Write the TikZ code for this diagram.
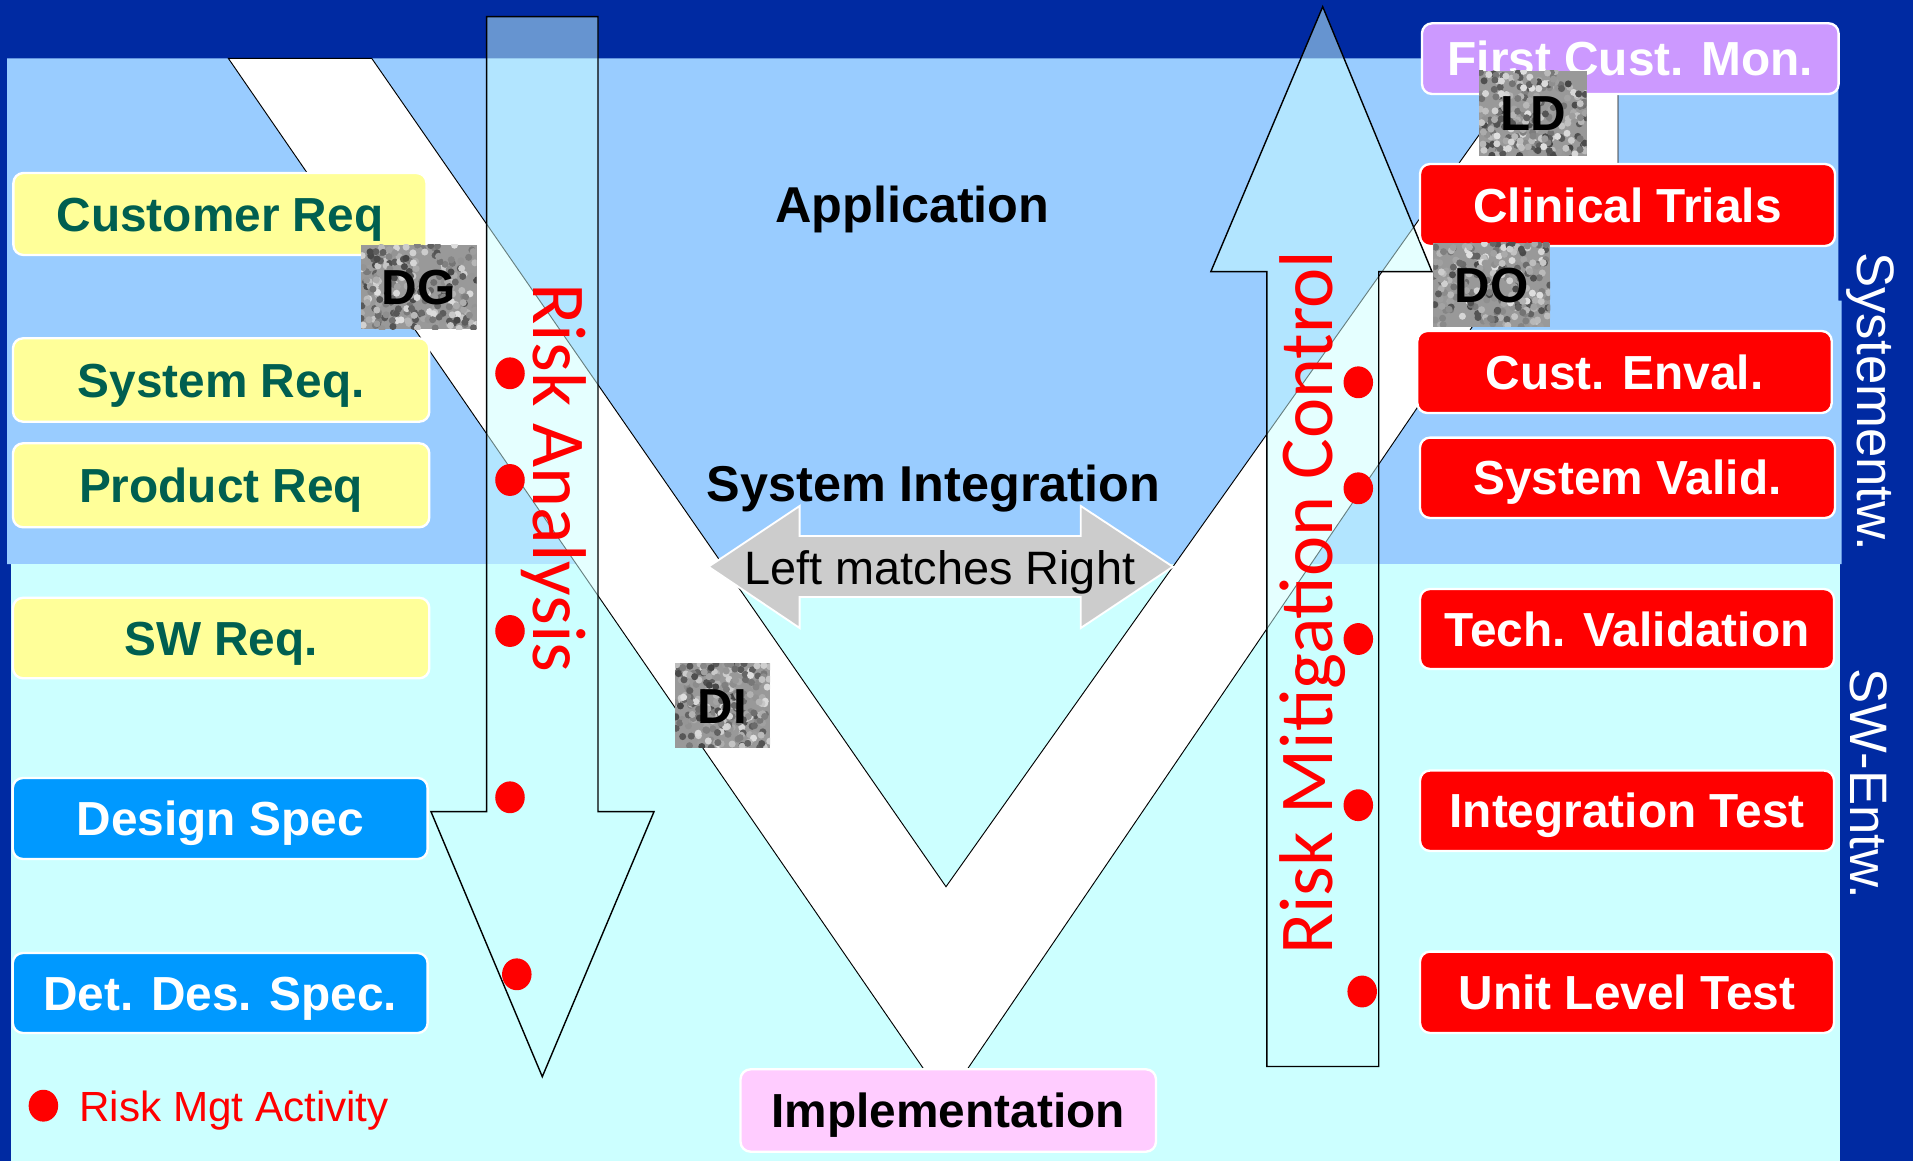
\documentclass[tikz,border=0pt]{standalone}
\usepackage{fontspec}
\setmainfont{Liberation Sans}
\newfontfamily\calib{Carlito}
\usetikzlibrary{shapes.geometric,calc}

\definecolor{dkblue}{RGB}{0,42,162}
\definecolor{ltblue}{RGB}{153,204,255}
\definecolor{ltcyan}{RGB}{204,255,255}
\definecolor{reqyellow}{RGB}{255,255,153}
\definecolor{reqtext}{RGB}{0,95,80}
\definecolor{specblue}{RGB}{0,153,255}
\definecolor{lav}{RGB}{204,153,255}
\definecolor{pinkbox}{RGB}{255,204,255}
\definecolor{arrgray}{RGB}{204,204,204}

\tikzset{
  bx/.style 2 args={minimum width=#1*0.42679pt, minimum height=#2*0.42679pt},
  lbl/.style={font=\fontsize{20.4}{24}\selectfont\bfseries, text height=14.6pt, text depth=0pt, inner sep=0pt},
  rbox/.style={lbl, rounded corners=4.3pt, draw=white, line width=1pt},
  ybox/.style={rbox, fill=reqyellow, text=reqtext},
  bbox/.style={rbox, fill=specblue, text=white},
  redbox/.style={rbox, fill=red, text=white},
  lavbox/.style={rbox, fill=lav, text=white},
  pinkb/.style={rbox, fill=pinkbox, text=black},
  title/.style={font=\fontsize{21.5}{24}\selectfont\bfseries, text=black, inner sep=0pt, anchor=base},
  riskarrow/.style={fill=ltcyan, fill opacity=0.5, draw=black, line width=0.6pt},
  vshape/.style={fill=white, draw=black, line width=0.4pt},
  rdot/.style={ellipse, fill=red, inner sep=0pt, minimum width=12.6pt, minimum height=13.6pt},
  risktext/.style={font=\calib\fontsize{32.5}{36}\selectfont, text=red, inner sep=0pt, anchor=base west},
  stripe/.style={font=\fontsize{22.5}{26}\selectfont, text=white, inner sep=0pt, anchor=base west, rotate=-90},
  speckle/.style={path picture={
    \foreach \k in {1,...,240}{
      \pgfmathsetmacro{\rx}{rnd}
      \pgfmathsetmacro{\ry}{rnd}
      \pgfmathtruncatemacro{\rc}{12+62*rnd}
      \path ($(path picture bounding box.south west)!\rx!(path picture bounding box.south east)$) coordinate (spa);
      \path ($(path picture bounding box.south west)!\ry!(path picture bounding box.north west)$) coordinate (spb);
      \fill[black!\rc] (spa |- spb) circle (1.5pt);
    }}},
  texbox/.style={font=\fontsize{21}{24}\selectfont\bfseries, text=black, inner sep=0pt, text height=15pt, text depth=0pt, fill=black!40, speckle}
}

\begin{document}
\begin{tikzpicture}[x=0.015cm, y=-0.015cm]
\pgfmathsetseed{7}
\useasboundingbox (0,0) rectangle (1913,1161);
% background
\fill[dkblue] (0,0) rectangle (1913,1161);
\fill[ltblue] (7,58.3) -- (1838.3,58.3) -- (1838.3,300.7) -- (1841.7,300.7) -- (1841.7,564) -- (7,564) -- cycle;
\fill[ltcyan] (11,564) rectangle (1840,1161);

% the V
\draw[vshape] (228.3,58.3) -- (371.7,58.3) -- (946,886.7) -- (1510.9,90) -- (1618,90) -- (1618,240) -- (1531.3,240) -- (945.7,1101) -- cycle;

% Left matches Right
\draw[fill=arrgray, draw=white, line width=0.8pt] (708.5,566.7) -- (799.6,506) -- (799.6,536) -- (1080.8,536) -- (1080.8,506) -- (1172.8,566.7) -- (1080.8,628) -- (1080.8,597) -- (799.6,597) -- (799.6,628) -- cycle;
\node[font=\fontsize{20}{24}\selectfont, inner sep=0pt, anchor=base] (lmr) at (939.8,584) {Left matches Right};

% titles
\node[title] (app) at (912.2,222.7) {Application};
\node[title] (sysint) at (933.5,501.7) {System Integration};

% risk arrows
\draw[riskarrow] (486.6,16.7) -- (598,16.7) -- (598,811.7) -- (654,811.7) -- (542.3,1076.7) -- (431,811.7) -- (486.6,811.7) -- cycle;
\draw[riskarrow] (1322.7,6.7) -- (1432,271.7) -- (1378.7,271.7) -- (1378.7,1066.5) -- (1266.8,1066.5) -- (1266.8,271.7) -- (1210.8,271.7) -- cycle;

% risk dots
\node[rdot] (la1) at (510,373.3) {};
\node[rdot] (la2) at (510,480) {};
\node[rdot] (la3) at (510,631) {};
\node[rdot] (la4) at (510,797.3) {};
\node[rdot] (la5) at (516.8,974.3) {};
\node[rdot] (rm1) at (1358.3,382.3) {};
\node[rdot] (rm2) at (1358.3,488.3) {};
\node[rdot] (rm3) at (1358.3,639) {};
\node[rdot] (rm4) at (1358.3,805.2) {};
\node[rdot] (rm5) at (1362.2,991.5) {};
\node[rdot] (legdot) at (43.4,1105.7) {};
\node[font=\fontsize{18}{20}\selectfont, text=red, inner sep=0pt, anchor=base west] (legtxt) at (79,1121.7) {Risk Mgt Activity};

% risk texts
\node[risktext, rotate=-90] (ra) at (533,283) {Risk Analysis};
\node[risktext, rotate=90] (rmc) at (1332.5,955.3) {Risk Mitigation Control};

% left boxes
\node[ybox, bx={413.1}{82}] (custreq) at (219.95,214) {Customer Req};
\node[ybox, bx={416.3}{83.4}] (sysreq) at (221.15,380) {System Req.};
\node[ybox, bx={416.3}{84}] (prodreq) at (221.15,485.3) {Product Req};
\node[ybox, bx={416.3}{80.5}] (swreq) at (221.15,638.05) {SW Req.};
\node[bbox, bx={414.8}{81}] (design) at (220.2,818.5) {Design Spec};
\node[bbox, bx={414.8}{80}] (detdes) at (220.2,993) {Det. Des. Spec.};

% right boxes
\node[lavbox, bx={416.6}{70.7}] (firstcust) at (1630.3,58.65) {First Cust. Mon.};
\node[redbox, bx={415}{82}] (clinical) at (1627.5,205) {Clinical Trials};
\node[redbox, bx={414.4}{82}] (custenval) at (1624.5,372) {Cust. Enval.};
\node[redbox, bx={415}{80.4}] (sysvalid) at (1627.5,477.8) {System Valid.};
\node[redbox, bx={414}{80}] (techval) at (1627,629) {Tech. Validation};
\node[redbox, bx={414}{80.5}] (integ) at (1627,810.75) {Integration Test};
\node[redbox, bx={414}{81.4}] (unit) at (1627,992.3) {Unit Level Test};

% implementation
\node[pinkb, bx={415.5}{82.4}] (impl) at (948.25,1110.5) {Implementation};

% textured tags
\node[texbox, bx={115.7}{84.3}] (dg) at (418.85,287.15) {DG};
\node[texbox, bx={95}{84.4}] (di) at (722.5,705.5) {DI};
\node[texbox, bx={116.7}{84}] (do) at (1491.65,284.7) {DO};
\node[texbox, bx={107.7}{84.7}] (ld) at (1532.85,113.35) {LD};

% side labels
\node[stripe] (sysentw) at (1857,252) {Systementw.};
\node[stripe] (swentw) at (1850,668) {SW-Entw.};
\end{tikzpicture}
\end{document}
